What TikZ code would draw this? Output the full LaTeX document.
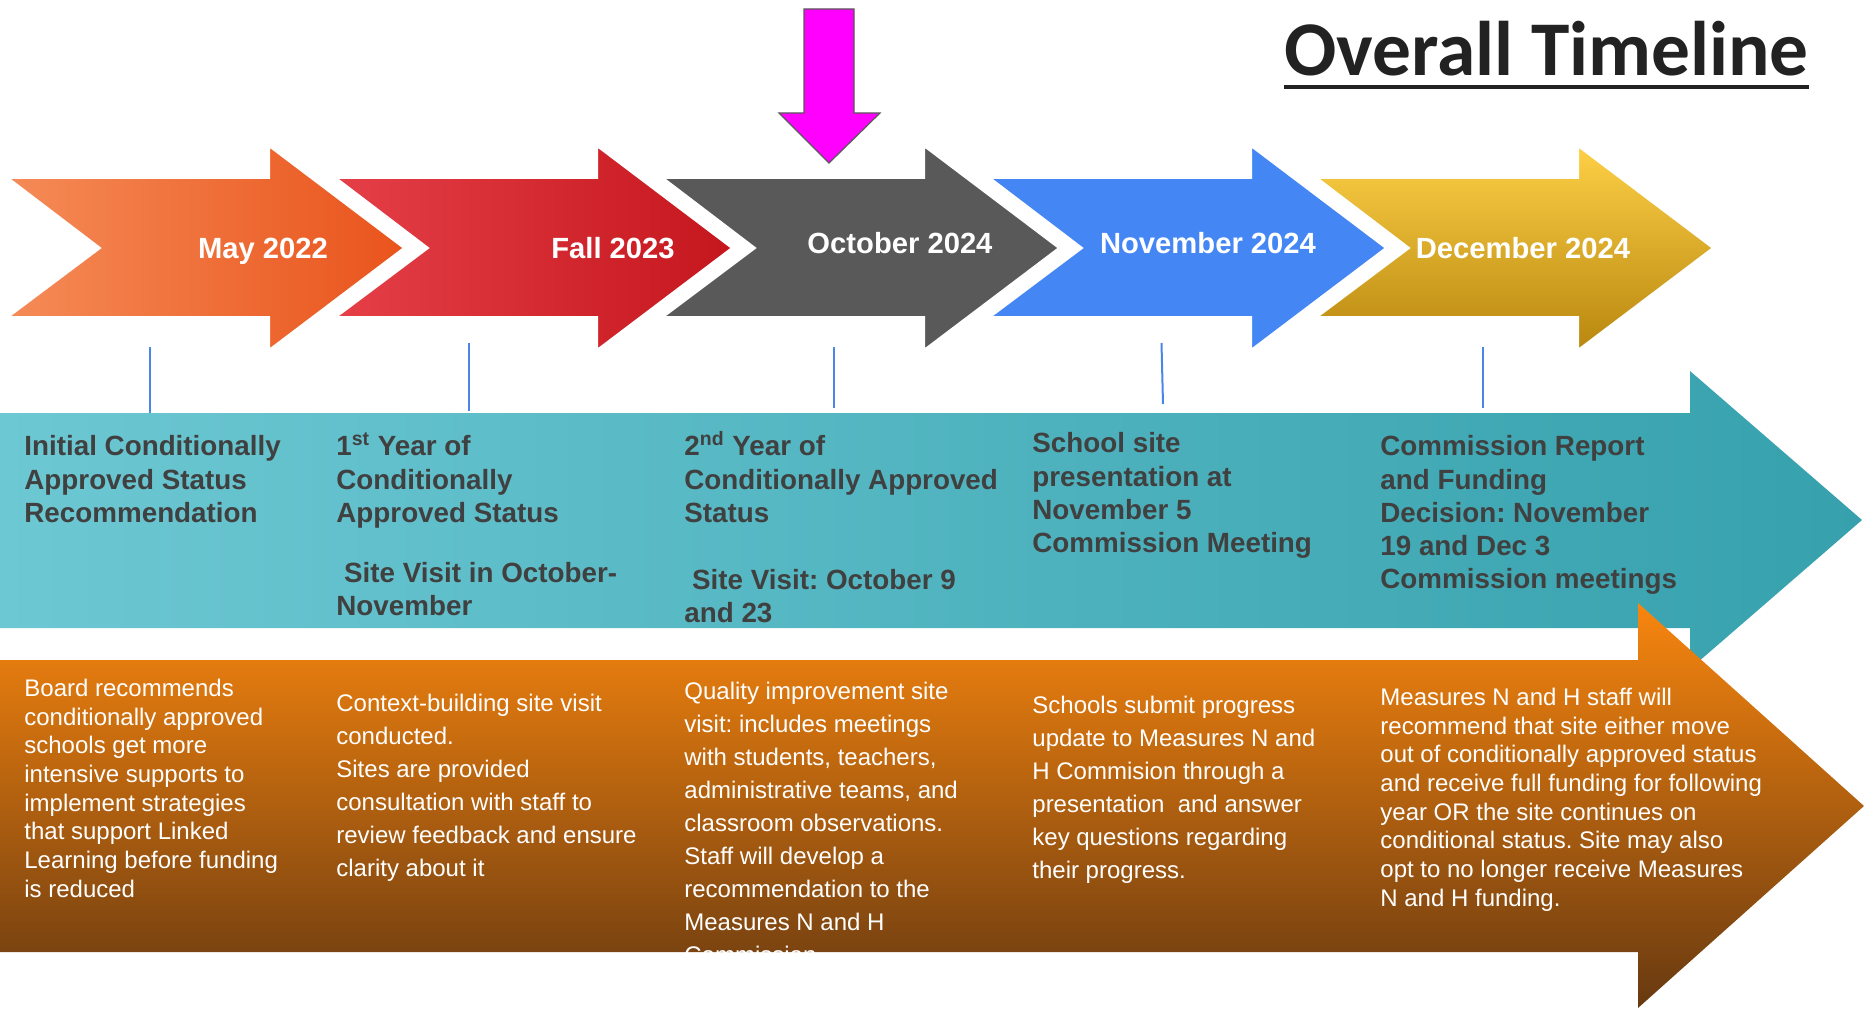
\documentclass[tikz,border=0pt]{standalone}
\usepackage{fontspec}
\setmainfont{Liberation Sans}
\newfontfamily\titlefont{Carlito}
\usepackage{tikz}
\frenchspacing
\definecolor{mayA}{HTML}{F58B57}
\definecolor{mayB}{HTML}{E9541C}
\definecolor{fallA}{HTML}{E53F48}
\definecolor{fallB}{HTML}{C5161D}
\definecolor{octGray}{HTML}{595959}
\definecolor{novBlue}{HTML}{4486F4}
\definecolor{decA}{HTML}{FDD046}
\definecolor{decB}{HTML}{B8870F}
\definecolor{tealA}{HTML}{6CC8D3}
\definecolor{tealB}{HTML}{36A1AD}
\definecolor{orgA}{HTML}{F8860F}
\definecolor{orgB}{HTML}{673910}
\definecolor{txtGray}{HTML}{404040}
\definecolor{tickBlue}{HTML}{4A86E8}
\definecolor{titleInk}{HTML}{222222}
\definecolor{pointer}{HTML}{FF00FF}

\begin{document}
\begin{tikzpicture}[x=0.5pt,y=-0.5pt,chev/.style={draw=white,line width=1pt},may/.style={left color=mayA,right color=mayB},fall/.style={left color=fallA,right color=fallB},oct/.style={fill=octGray},nov/.style={fill=novBlue},dec/.style={top color=decA,bottom color=decB},chevlbl/.style={anchor=base,inner sep=0pt,text=white,font=\fontsize{14.6}{17}\selectfont\bfseries},stage/.style={anchor=north west,align=left,inner sep=0pt,text=txtGray,font=\fontsize{13.9}{16.65}\selectfont\bfseries},detail/.style={anchor=north west,align=left,inner sep=0pt,text=white,font=\fontsize{12}{#1}\selectfont},detail/.default=14.35,tick/.style={tickBlue,line width=1pt}]
\useasboundingbox (0,0) rectangle (1864,1011);
\path[left color=tealA,right color=tealB] (0,413) -- (1690,413) -- (1690,371) -- (1862,520) -- (1690,669) -- (1690,628) -- (0,628) -- cycle;
\path[top color=orgA,bottom color=orgB] (0,660) -- (1638,660) -- (1638,603) -- (1864,806) -- (1638,1008) -- (1638,952) -- (0,952) -- cycle;
\foreach \x/\s/\t/\cx/\by in %
{8/may/May 2022/263/258,336/fall/Fall 2023/613/258,663/oct/October 2024/900/253,990/nov/November 2024/1208/253,1317/dec/December 2024/1523/258} {
   \path[chev,\s] (\x,178) -- (\x+261,178) -- (\x+261,146) -- (\x+396,248) -- (\x+261,350) -- (\x+261,317) -- (\x,317) -- (\x+92,248) -- cycle;
   \node[chevlbl] (\s-lbl) at (\cx,\by) {\t};
}
\draw[fill=pointer,draw=black!65,line width=0.6pt] (804,9) -- (854,9) -- (854,113) -- (880,113) -- (829,163) -- (779,113) -- (804,113) -- cycle;
\node[anchor=base west,inner sep=0pt,text=titleInk,font=\titlefont\bfseries\fontsize{38.7}{40}\selectfont] (title) at (1284,76) {Overall Timeline};
\draw[titleInk,line width=2pt] ([yshift=-5.5pt]title.base west) -- ([yshift=-5.5pt]title.base east);
\foreach \n/\tx/\ty/\bx/\bt in %
{1/150/347/150/413,2/469/343/469/411,3/834/347/834/408,4/1161.5/343/1163/404,5/1483/347/1483/408} {
   \coordinate (tt\n) at (\tx,\ty);
   \coordinate (tb\n) at (\bx,\bt);
   \draw[tick] (tt\n) -- (tb\n);
}
\node[stage] (s1) at (24,432) {\strut Initial Conditionally\\Approved Status\\Recommendation};
\node[stage] (s2) at (336,432) {\strut 1\textsuperscript{st} Year of\\Conditionally\\Approved Status\\[13.3pt]\hspace*{0.28em}Site Visit in October-\\November};
\node[stage] (s3) at (684,431) {\strut 2\textsuperscript{nd} Year of\\Conditionally Approved\\Status\\[16.7pt]\hspace*{0.28em}Site Visit: October 9\\and 23};
\node[stage] (s4) at (1032,429) {\strut School site\\presentation at\\November 5\\Commission Meeting};
\node[stage] (s5) at (1380,432) {\strut Commission Report\\and Funding\\Decision: November\\19 and Dec 3\\Commission meetings};
\node[detail] (d1) at (24,676) {\strut Board recommends\\conditionally approved\\schools get more\\intensive supports to\\implement strategies\\that support Linked\\Learning before funding\\is reduced};
\node[detail=16.5] (d2) at (336,688) {\strut Context-building site visit\\conducted.\\Sites are provided\\consultation with staff to\\review feedback and ensure\\clarity about it};
\begin{scope}
\clip (0,660) rectangle (1638,952);
\node[detail=16.5] (d3) at (684,676) {\strut Quality improvement site\\visit: includes meetings\\with students, teachers,\\administrative teams, and\\classroom observations.\\Staff will develop a\\recommendation to the\\Measures N and H\\Commission};
\end{scope}
\node[detail=16.5] (d4) at (1032,690) {\strut Schools submit progress\\update to Measures N and\\H Commision through a\\presentation\ \ and answer\\key questions regarding\\their progress.};
\node[detail] (d5) at (1380,685) {\strut Measures N and H staff will\\recommend that site either move\\out of conditionally approved status\\and receive full funding for following\\year OR the site continues on\\conditional status. Site may also\\opt to no longer receive Measures\\N and H funding.};
\end{tikzpicture}
\end{document}
